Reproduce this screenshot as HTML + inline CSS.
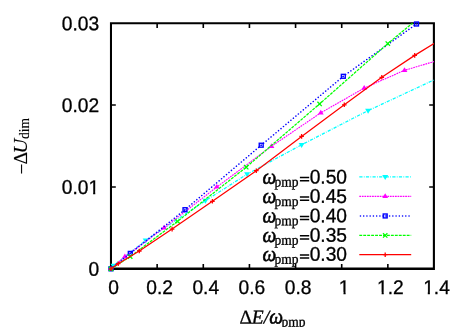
<!DOCTYPE html>
<html><head><meta charset="utf-8"><title>chart</title>
<style>
html,body{margin:0;padding:0;background:#fff;}
body{width:467px;height:327px;overflow:hidden;}
svg{display:block;will-change:transform;}
text{fill:#000;stroke:#000;stroke-width:0.3px;}
.s{font-family:"Liberation Sans",sans-serif;font-size:19.2px;}
.ti{font-family:"Liberation Serif",serif;font-style:italic;font-size:19.5px;}
.tr{font-family:"Liberation Serif",serif;font-size:19.5px;}
.sub{font-family:"Liberation Serif",serif;font-size:13.5px;}
.dm{stroke-width:0.12px;}
.lt{stroke-width:0.15px;}
.om{stroke-width:0.55px;}
</style></head><body>
<svg width="467" height="327" viewBox="0 0 467 327">
<rect width="467" height="327" fill="#fff"/>
<defs><clipPath id="cp"><rect x="111.0" y="23.2" width="323.0" height="245.60000000000002"/></clipPath></defs>
<!-- frame -->
<path d="M109.95 22.3H434.95V269.9H109.95Z M112 24.2V267.45H432.85V24.2Z" fill="#000" fill-rule="evenodd"/>
<path d="M157.14 268.8v-4.8M157.14 23.2v4.8M203.29 268.8v-4.8M203.29 23.2v4.8M249.43 268.8v-4.8M249.43 23.2v4.8M295.57 268.8v-4.8M295.57 23.2v4.8M341.71 268.8v-4.8M341.71 23.2v4.8M387.86 268.8v-4.8M387.86 23.2v4.8M111.0 186.93h4.8M434.0 186.93h-4.8M111.0 105.07h4.8M434.0 105.07h-4.8" stroke="#000" stroke-width="1.6" fill="none"/>
<!-- tick labels -->
<g transform="translate(113.50 294.10) rotate(0.1) scale(1 1.03)"><text x="0" y="0" class="s" text-anchor="middle">0</text></g>
<g transform="translate(159.64 294.10) rotate(0.1) scale(1 1.03)"><text x="0" y="0" class="s" text-anchor="middle">0.2</text></g>
<g transform="translate(205.79 294.10) rotate(0.1) scale(1 1.03)"><text x="0" y="0" class="s" text-anchor="middle">0.4</text></g>
<g transform="translate(251.93 294.10) rotate(0.1) scale(1 1.03)"><text x="0" y="0" class="s" text-anchor="middle">0.6</text></g>
<g transform="translate(298.07 294.10) rotate(0.1) scale(1 1.03)"><text x="0" y="0" class="s" text-anchor="middle">0.8</text></g>
<g transform="translate(344.21 294.10) rotate(0.1) scale(1 1.03)"><text x="0" y="0" class="s" text-anchor="middle">1</text></g>
<g transform="translate(390.36 294.10) rotate(0.1) scale(1 1.03)"><text x="0" y="0" class="s" text-anchor="middle">1.2</text></g>
<g transform="translate(436.50 294.10) rotate(0.1) scale(1 1.03)"><text x="0" y="0" class="s" text-anchor="middle">1.4</text></g>
<g transform="translate(99.20 275.80) rotate(0.1) scale(1 1.03)"><text x="0" y="0" class="s" text-anchor="end">0</text></g>
<g transform="translate(99.20 193.93) rotate(0.1) scale(1 1.03)"><text x="0" y="0" class="s" text-anchor="end">0.01</text></g>
<g transform="translate(99.20 112.07) rotate(0.1) scale(1 1.03)"><text x="0" y="0" class="s" text-anchor="end">0.02</text></g>
<g transform="translate(99.20 30.20) rotate(0.1) scale(1 1.03)"><text x="0" y="0" class="s" text-anchor="end">0.03</text></g>
<rect x="88.82" y="191.73" width="4.32" height="3.5" fill="#fff"/><rect x="95.26" y="191.73" width="4.40" height="3.5" fill="#fff"/><rect x="339.18" y="291.90" width="4.32" height="3.5" fill="#fff"/><rect x="345.62" y="291.90" width="4.40" height="3.5" fill="#fff"/><rect x="377.31" y="291.90" width="4.32" height="3.5" fill="#fff"/><rect x="383.75" y="291.90" width="4.40" height="3.5" fill="#fff"/><rect x="423.45" y="291.90" width="4.32" height="3.5" fill="#fff"/><rect x="429.89" y="291.90" width="4.40" height="3.5" fill="#fff"/>
<!-- axis labels -->
<g transform="translate(239.50 323.40) rotate(0.1)"><text x="0" y="0" class="tr">Δ</text></g><g transform="translate(251.80 323.40) rotate(0.1)"><text x="0" y="0" class="ti">E/</text></g><g transform="translate(269.30 323.50) rotate(0.1) scale(1.0 1.11)"><text x="0" y="0" class="ti om">ω</text></g><g transform="translate(281.60 326.40) rotate(0.1) scale(1 1.07)"><text x="0" y="0" class="sub">pmp</text></g>
<g transform="translate(27.70 174.60) rotate(-90)"><text x="0" y="0" class="tr lt">−</text></g><g transform="translate(26.90 164.40) rotate(-90)"><text x="0" y="0" class="tr lt">Δ</text></g><g transform="translate(26.90 153.40) rotate(-90) scale(1.04 1)"><text x="0" y="0" class="ti lt">U</text></g><g transform="translate(29.00 138.90) rotate(-90) scale(1 1.05)"><text x="0" y="0" class="sub dm">dim</text></g>
<!-- cyan -->
<g transform="translate(262.60 183.70) rotate(0.1) scale(1.0 1.11)"><text x="0" y="0" class="ti om">ω</text></g><g transform="translate(274.40 186.50) rotate(0.1) scale(1 1.07)"><text x="0" y="0" class="sub">pmp</text></g><g transform="translate(347.00 183.50) rotate(0.1) scale(1 1.03)"><text x="0" y="0" class="s" text-anchor="end">0.50</text></g>
<path d="M299.9 177.60H309.2M299.9 180.75H309.2" stroke="#000" stroke-width="1.5" fill="none"/>
<path d="M359.3 176.9L411.2 176.9" fill="none" stroke="#00ffff" stroke-width="1.25" stroke-dasharray="3.2 1.3 0.8 1.3"/>
<path d="M382.20 175.00L388.20 175.00L385.20 180.00Z" fill="#00ffff"/>
<path d="M111.0 268.8L113.5 265.6L145.7 240.4L205.4 200.7L247.1 174.2L301.6 144.8L368.1 110.6L434.0 79.9L450.0 72.8" fill="none" stroke="#00ffff" stroke-width="1.25" stroke-dasharray="3.2 1.3 0.8 1.3" clip-path="url(#cp)"/>
<path d="M108.00 266.90L114.00 266.90L111.00 271.90Z" fill="#00ffff"/>
<path d="M110.50 263.70L116.50 263.70L113.50 268.70Z" fill="#00ffff"/>
<path d="M142.70 238.50L148.70 238.50L145.70 243.50Z" fill="#00ffff"/>
<path d="M202.40 198.80L208.40 198.80L205.40 203.80Z" fill="#00ffff"/>
<path d="M244.10 172.30L250.10 172.30L247.10 177.30Z" fill="#00ffff"/>
<path d="M298.60 142.90L304.60 142.90L301.60 147.90Z" fill="#00ffff"/>
<path d="M365.10 108.70L371.10 108.70L368.10 113.70Z" fill="#00ffff"/>
<!-- magenta -->
<g transform="translate(262.60 203.10) rotate(0.1) scale(1.0 1.11)"><text x="0" y="0" class="ti om">ω</text></g><g transform="translate(274.40 205.90) rotate(0.1) scale(1 1.07)"><text x="0" y="0" class="sub">pmp</text></g><g transform="translate(347.00 202.90) rotate(0.1) scale(1 1.03)"><text x="0" y="0" class="s" text-anchor="end">0.45</text></g>
<path d="M299.9 197.00H309.2M299.9 200.15H309.2" stroke="#000" stroke-width="1.5" fill="none"/>
<path d="M359.3 196.35L411.2 196.35" fill="none" stroke="#ff00ff" stroke-width="1.12" stroke-dasharray="1.75 0.8"/>
<path d="M382.30 197.95L388.10 197.95L385.20 193.25Z" fill="#ff00ff"/>
<path d="M111.0 268.8L124.9 256.7L164.1 227.9L216.8 187.0L271.5 146.3L320.8 112.8L364.2 88.1L404.5 70.3L434.0 61.6L450.0 57.0" fill="none" stroke="#ff00ff" stroke-width="1.12" stroke-dasharray="1.75 0.8" clip-path="url(#cp)"/>
<path d="M108.10 270.40L113.90 270.40L111.00 265.70Z" fill="#ff00ff"/>
<path d="M122.00 258.30L127.80 258.30L124.90 253.60Z" fill="#ff00ff"/>
<path d="M161.20 229.50L167.00 229.50L164.10 224.80Z" fill="#ff00ff"/>
<path d="M213.90 188.60L219.70 188.60L216.80 183.90Z" fill="#ff00ff"/>
<path d="M268.60 147.90L274.40 147.90L271.50 143.20Z" fill="#ff00ff"/>
<path d="M317.90 114.40L323.70 114.40L320.80 109.70Z" fill="#ff00ff"/>
<path d="M361.30 89.70L367.10 89.70L364.20 85.00Z" fill="#ff00ff"/>
<path d="M401.60 71.90L407.40 71.90L404.50 67.20Z" fill="#ff00ff"/>
<!-- blue -->
<g transform="translate(262.60 222.50) rotate(0.1) scale(1.0 1.11)"><text x="0" y="0" class="ti om">ω</text></g><g transform="translate(274.40 225.30) rotate(0.1) scale(1 1.07)"><text x="0" y="0" class="sub">pmp</text></g><g transform="translate(347.00 222.30) rotate(0.1) scale(1 1.03)"><text x="0" y="0" class="s" text-anchor="end">0.40</text></g>
<path d="M299.9 216.40H309.2M299.9 219.55H309.2" stroke="#000" stroke-width="1.5" fill="none"/>
<path d="M360.4 215.95L411.2 215.95" fill="none" stroke="#0000ff" stroke-width="1.5" stroke-dasharray="0.1 3.14" stroke-linecap="round"/>
<rect x="383.25" y="214.00" width="3.9" height="3.9" fill="none" stroke="#0000ff" stroke-width="1.4"/><rect x="384.60" y="215.35" width="1.2" height="1.2" fill="#0000ff"/>
<path d="M111.0 268.8L130.3 253.4L185.0 209.7L261.2 145.2L343.3 76.3L416.5 24.0" fill="none" stroke="#0000ff" stroke-width="1.5" stroke-dasharray="0.1 3.14" stroke-linecap="round" clip-path="url(#cp)"/>
<rect x="109.05" y="266.85" width="3.9" height="3.9" fill="none" stroke="#0000ff" stroke-width="1.4"/><rect x="110.40" y="268.20" width="1.2" height="1.2" fill="#0000ff"/>
<rect x="128.35" y="251.45" width="3.9" height="3.9" fill="none" stroke="#0000ff" stroke-width="1.4"/><rect x="129.70" y="252.80" width="1.2" height="1.2" fill="#0000ff"/>
<rect x="183.05" y="207.75" width="3.9" height="3.9" fill="none" stroke="#0000ff" stroke-width="1.4"/><rect x="184.40" y="209.10" width="1.2" height="1.2" fill="#0000ff"/>
<rect x="259.25" y="143.25" width="3.9" height="3.9" fill="none" stroke="#0000ff" stroke-width="1.4"/><rect x="260.60" y="144.60" width="1.2" height="1.2" fill="#0000ff"/>
<rect x="341.35" y="74.35" width="3.9" height="3.9" fill="none" stroke="#0000ff" stroke-width="1.4"/><rect x="342.70" y="75.70" width="1.2" height="1.2" fill="#0000ff"/>
<rect x="414.55" y="22.05" width="3.9" height="3.9" fill="none" stroke="#0000ff" stroke-width="1.4"/><rect x="415.90" y="23.40" width="1.2" height="1.2" fill="#0000ff"/>
<!-- green -->
<g transform="translate(262.60 241.90) rotate(0.1) scale(1.0 1.11)"><text x="0" y="0" class="ti om">ω</text></g><g transform="translate(274.40 244.70) rotate(0.1) scale(1 1.07)"><text x="0" y="0" class="sub">pmp</text></g><g transform="translate(347.00 241.70) rotate(0.1) scale(1 1.03)"><text x="0" y="0" class="s" text-anchor="end">0.35</text></g>
<path d="M299.9 235.80H309.2M299.9 238.95H309.2" stroke="#000" stroke-width="1.5" fill="none"/>
<path d="M359.3 235.4L411.2 235.4" fill="none" stroke="#00ff00" stroke-width="1.25" stroke-dasharray="2.9 1.05"/>
<path d="M383.00 233.20L387.40 237.60M383.00 237.60L387.40 233.20" stroke="#00ff00" stroke-width="1.3" fill="none"/>
<path d="M111.0 268.8L130.2 256.6L177.6 221.3L246.2 167.2L319.6 103.9L387.8 43.6L412.6 23.0L430.0 9.0" fill="none" stroke="#00ff00" stroke-width="1.25" stroke-dasharray="2.9 1.05" clip-path="url(#cp)"/>
<path d="M108.80 266.60L113.20 271.00M108.80 271.00L113.20 266.60" stroke="#00ff00" stroke-width="1.3" fill="none"/>
<path d="M128.00 254.40L132.40 258.80M128.00 258.80L132.40 254.40" stroke="#00ff00" stroke-width="1.3" fill="none"/>
<path d="M175.40 219.10L179.80 223.50M175.40 223.50L179.80 219.10" stroke="#00ff00" stroke-width="1.3" fill="none"/>
<path d="M244.00 165.00L248.40 169.40M244.00 169.40L248.40 165.00" stroke="#00ff00" stroke-width="1.3" fill="none"/>
<path d="M317.40 101.70L321.80 106.10M317.40 106.10L321.80 101.70" stroke="#00ff00" stroke-width="1.3" fill="none"/>
<path d="M385.60 41.40L390.00 45.80M385.60 45.80L390.00 41.40" stroke="#00ff00" stroke-width="1.3" fill="none"/>
<!-- red -->
<g transform="translate(262.60 261.00) rotate(0.1) scale(1.0 1.11)"><text x="0" y="0" class="ti om">ω</text></g><g transform="translate(274.40 263.80) rotate(0.1) scale(1 1.07)"><text x="0" y="0" class="sub">pmp</text></g><g transform="translate(347.00 260.80) rotate(0.1) scale(1 1.03)"><text x="0" y="0" class="s" text-anchor="end">0.30</text></g>
<path d="M299.9 254.90H309.2M299.9 258.05H309.2" stroke="#000" stroke-width="1.5" fill="none"/>
<path d="M359.3 254.7L411.2 254.7" fill="none" stroke="#ff0000" stroke-width="1.25"/>
<path d="M382.90 254.70L387.50 254.70M385.20 252.40L385.20 257.00" stroke="#ff0000" stroke-width="1.3" fill="none"/>
<path d="M111.0 268.8L118.2 263.7L139.3 251.0L172.1 229.1L212.4 201.3L256.3 170.7L301.6 136.4L344.3 104.8L381.8 77.3L414.7 55.4L434.0 43.6L450.0 34.0" fill="none" stroke="#ff0000" stroke-width="1.25" clip-path="url(#cp)"/>
<path d="M108.70 268.80L113.30 268.80M111.00 266.50L111.00 271.10" stroke="#ff0000" stroke-width="1.3" fill="none"/>
<path d="M115.90 263.70L120.50 263.70M118.20 261.40L118.20 266.00" stroke="#ff0000" stroke-width="1.3" fill="none"/>
<path d="M137.00 251.00L141.60 251.00M139.30 248.70L139.30 253.30" stroke="#ff0000" stroke-width="1.3" fill="none"/>
<path d="M169.80 229.10L174.40 229.10M172.10 226.80L172.10 231.40" stroke="#ff0000" stroke-width="1.3" fill="none"/>
<path d="M210.10 201.30L214.70 201.30M212.40 199.00L212.40 203.60" stroke="#ff0000" stroke-width="1.3" fill="none"/>
<path d="M254.00 170.70L258.60 170.70M256.30 168.40L256.30 173.00" stroke="#ff0000" stroke-width="1.3" fill="none"/>
<path d="M299.30 136.40L303.90 136.40M301.60 134.10L301.60 138.70" stroke="#ff0000" stroke-width="1.3" fill="none"/>
<path d="M342.00 104.80L346.60 104.80M344.30 102.50L344.30 107.10" stroke="#ff0000" stroke-width="1.3" fill="none"/>
<path d="M379.50 77.30L384.10 77.30M381.80 75.00L381.80 79.60" stroke="#ff0000" stroke-width="1.3" fill="none"/>
<path d="M412.40 55.40L417.00 55.40M414.70 53.10L414.70 57.70" stroke="#ff0000" stroke-width="1.3" fill="none"/>
</svg>
</body></html>
